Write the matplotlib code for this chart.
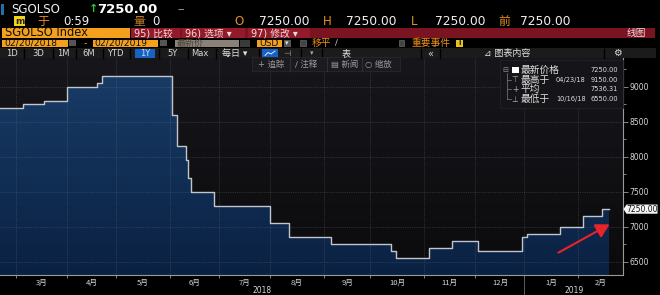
import numpy as np
import matplotlib
matplotlib.use('Agg')
import matplotlib.pyplot as plt
from matplotlib.patches import Rectangle, Polygon, FancyArrowPatch
from matplotlib.lines import Line2D
from matplotlib.colors import LinearSegmentedColormap
import matplotlib.transforms as mtransforms

plt.rcParams['font.family'] = ['DejaVu Sans', 'Noto Sans CJK SC']

# ---------------- data ----------------
ticker = 'SGOLSO'
last_price_text = '7250.00'
start_date = '2018-02-20'
end_date = '2019-02-20'
change_dates = ['2018-02-20', '2018-03-06', '2018-03-19', '2018-04-02', '2018-04-19',
                '2018-04-23', '2018-06-04', '2018-06-06', '2018-06-12', '2018-06-13',
                '2018-06-14', '2018-06-28', '2018-08-01', '2018-08-13', '2018-09-06',
                '2018-10-12', '2018-10-16', '2018-11-05', '2018-11-19', '2018-12-04',
                '2018-12-31', '2019-01-02', '2019-01-22', '2019-02-05', '2019-02-15',
                '2019-02-20']
change_values = [8700, 8750, 8800, 9000, 9050,
                 9150, 8600, 8150, 7950, 7700,
                 7500, 7300, 7050, 6850, 6750,
                 6650, 6550, 6700, 6800, 6650,
                 6850, 6900, 7000, 7150, 7250,
                 7250]
month_labels = ['3月', '4月', '5月', '6月', '7月', '8月', '9月', '10月', '11月', '12月', '1月', '2月']
year_labels = ['2018', '2019']
y_ticks = [6500, 7000, 7500, 8000, 8500, 9000]
y_minor = [6750, 7250, 7750, 8250, 8750, 9250]
legend_names = ['最新价格', '最高于', '平均', '最低于']
legend_dates = ['', '04/23/18', '', '10/16/18']
legend_values = ['7250.00', '9150.00', '7536.31', '6550.00']

# ---------------- figure ----------------
W, H = 660, 295
fig = plt.figure(figsize=(W / 100, H / 100), dpi=100, facecolor='black')

def R(x0, y0, x1, y1, fc, ec='none', lw=0.5, z=1):
    fig.add_artist(Rectangle((x0 / W, 1 - y1 / H), (x1 - x0) / W, (y1 - y0) / H,
                             transform=fig.transFigure, facecolor=fc, edgecolor=ec,
                             linewidth=lw, zorder=z))

def T(x, y, s, c='#e0e0e0', fs=7, ha='left', fw='normal', fam=None, z=8):
    kw = {}
    if fam is not None:
        kw['family'] = fam
    fig.text(x / W, 1 - y / H, s, color=c, fontsize=fs, ha=ha, va='center',
             fontweight=fw, zorder=z, **kw)

def L(xs, ys, c, lw=0.6, z=8):
    fig.add_artist(Line2D([v / W for v in xs], [1 - v / H for v in ys],
                          transform=fig.transFigure, color=c, lw=lw, zorder=z))

ORANGE = '#f4a01c'
ORANGE_T = '#ec8e1a'

# row 1
R(1, 4, 3.5, 14.5, '#1f6fa8')
T(11, 9.5, ticker, '#f0f0f0', 8.5)
T(89, 9.5, '↑', '#33c43a', 8, fw='bold')
T(97, 9.5, '7250.00', '#ffffff', 9.5, fw='bold')
T(178, 9.5, '--', '#b0b0b0', 7.5)

# row 2
R(14, 16.5, 25, 26, '#f2d21a')
T(19.5, 21.3, 'm', '#222222', 6.5, ha='center', fw='bold')
T(37, 21.3, '于', ORANGE_T, 8.5)
T(63, 21.3, '0:59', '#f0f0f0', 8.5)
T(133, 21.3, '量', '#b8782c', 8.5)
T(152, 21.3, '0', '#f0f0f0', 8.5)
for lab, lx, vx in [('O', 234, 259.5), ('H', 323, 346), ('L', 411, 434.6), ('前', 498, 520)]:
    T(lx, 21.3, lab, ORANGE_T, 8.5)
    T(vx, 21.3, '7250.00', '#f0f0f0', 8.8)

# row 3
R(2, 28, 130, 38, ORANGE)
T(5, 33, 'SGOLSO Index', '#101010', 8.3)
R(131, 28, 655, 38, '#7a1420')
for (a, b, s) in [(131, 180, '95) 比较'), (182, 245, '96) 选项 ▾'), (248, 310, '97) 修改 ▾')]:
    R(a, 28, b, 38, '#931a29')
    T(a + 3, 33, s, '#f3dede', 7)
T(636, 33, '线图', '#f3dede', 7, ha='center')

# row 4
R(2, 39.5, 68, 46.8, ORANGE)
T(4, 43.2, '02/20/2018', '#101010', 6.6)
R(69, 40, 76, 46.3, '#555555')
T(85, 43.2, '-', ORANGE_T, 7, ha='center')
R(92.7, 39.5, 158, 46.8, ORANGE)
T(94.5, 43.2, '02/20/2019', '#101010', 6.6)
R(160, 40, 167, 46.3, '#555555')
R(175, 39.5, 239, 46.8, '#8a8276')
T(177, 43.2, '最新价', '#4a4032', 6.5)
R(240, 39.5, 250, 46.8, '#3a3a3a')
R(257, 39.5, 282, 46.8, ORANGE)
T(259, 43.2, 'USD', '#101010', 6.6)
R(283.5, 39.5, 291, 46.8, '#555555')
T(287.2, 43.2, '▾', '#dddddd', 5, ha='center')
R(300, 40.5, 305.5, 46, '#444444', ec='#666666')
T(312, 43.2, '移平', ORANGE_T, 7)
T(335, 43.2, '∕', '#cccccc', 6)
R(399, 40.5, 404.5, 46, '#444444', ec='#666666')
T(411, 43.2, '重要事件', ORANGE_T, 7)
R(456, 40, 462.5, 46.5, '#e8c21a')
T(459.2, 43.2, 'i', '#222222', 5, ha='center', fw='bold')

# row 5
R(0, 48.5, 656, 58, '#1b1b1b')
for sx in [24, 52.5, 75.5, 102.5, 130, 158.5, 187.5, 215.5, 259, 300.5, 322, 421, 440, 604]:
    L([sx, sx], [48.5, 58], '#000000', lw=1.0, z=2)
R(135, 49, 155, 57.5, '#1663c7')
for cx, s in [(11.7, '1D'), (38.5, '3D'), (63, '1M'), (89, '6M'), (115, 'YTD'),
              (145, '1Y'), (172.7, '5Y'), (200, 'Max')]:
    T(cx, 53.3, s, '#d8d8d8', 6, ha='center')
T(222, 53.3, '每日 ▾', '#e0e0e0', 6.5)
R(262, 49.3, 277.6, 57.3, '#1663c7')
L([265, 268, 271, 275], [55.5, 52.5, 54, 51], '#ffffff', lw=0.6, z=9)
T(287, 53.3, '⊣', '#aaaaaa', 6, ha='center')
T(312, 53.3, '▾', '#aaaaaa', 5, ha='center')
T(346, 53.3, '表', '#e0e0e0', 6.5, ha='center')
T(430, 53.3, '«', '#cccccc', 7, ha='center')
T(484, 53.3, '⊿ 图表内容', '#e0e0e0', 6.5)
T(617, 53.3, '⚙', '#dddddd', 7, ha='center')

# ---------------- chart ----------------
ax = fig.add_axes([0, 20 / H, 623 / W, 217 / H])
ax.set_facecolor('#111114')
x = np.busday_count(start_date, np.array(change_dates, dtype='datetime64[D]'))
v = np.array(change_values, dtype=float)
XL, YL = (0.3, 267.2), (6310, 9407)

grad = np.linspace(0, 1, 256).reshape(-1, 1)
cm_bg = LinearSegmentedColormap.from_list('bg', ['#0b0b0e', '#17171b'])
ax.imshow(grad, extent=(0, 1, 0, 1), transform=ax.transAxes, origin='lower',
          aspect='auto', cmap=cm_bg, zorder=0)
poly = ax.fill_between(x, v, YL[0], step='post', facecolor='none', edgecolor='none', zorder=1)
cm_fill = LinearSegmentedColormap.from_list('fill', ['#0a2142', '#183b66'])
im = ax.imshow(grad, extent=(x[0], x[-1], YL[0], v.max()), origin='lower',
               aspect='auto', cmap=cm_fill, zorder=1)
im.set_clip_path(poly.get_paths()[0], transform=ax.transData)
ax.plot(x, v, drawstyle='steps-post', color='#c2c6cc', lw=1.0, zorder=4)

months = np.arange(np.datetime64('2018-03'), np.datetime64('2019-03'), np.timedelta64(1, 'M'))
mpos = np.busday_count(start_date, months.astype('datetime64[D]'))
edges = np.concatenate([mpos, [XL[1]]])
mids = (edges[:-1] + edges[1:]) / 2

for p in mpos:
    ax.axvline(p, color='#7a7a80', lw=0.5, ls=(0, (1, 1.6)), alpha=0.55, zorder=2)
for yv in y_ticks:
    ax.axhline(yv, color='#7a7a80', lw=0.5, ls=(0, (1, 1.6)), alpha=0.55, zorder=2)

ax.set_xlim(*XL)
ax.set_ylim(*YL)
for s in ['top', 'left']:
    ax.spines[s].set_visible(False)
for s in ['bottom', 'right']:
    ax.spines[s].set_color('#9a9a9a')
    ax.spines[s].set_linewidth(0.8)

ax.yaxis.tick_right()
ax.set_yticks(y_ticks)
ax.set_yticklabels([str(t) for t in y_ticks])
ax.set_yticks(y_minor, minor=True)
ax.tick_params(axis='y', which='major', length=3.5, width=0.6, color='#9a9a9a',
               labelcolor='#d8d8d8', labelsize=5.5, pad=1)
ax.tick_params(axis='y', which='minor', length=2, width=0.6, color='#9a9a9a')

ax.set_xticks(mpos)
ax.set_xticklabels([''] * len(mpos))
ax.set_xticks(mids, minor=True)
ax.set_xticklabels(month_labels, minor=True, family=['Noto Sans CJK SC'])
ax.tick_params(axis='x', which='major', length=2, width=0.6, color='#9a9a9a')
ax.tick_params(axis='x', which='minor', length=0, labelsize=5.5, labelcolor='#d8d8d8', pad=2.5)

blend = mtransforms.blended_transform_factory(ax.transData, ax.transAxes)
jan_pos = mpos[10]
ax.plot([jan_pos, jan_pos], [0, -0.095], transform=blend, clip_on=False,
        color='#6a6a6a', lw=0.6)
ax.text((XL[0] + jan_pos) / 2, -0.072, year_labels[0], transform=blend, ha='center',
        va='center', fontsize=5.5, color='#d8d8d8')
ax.text((jan_pos + XL[1]) / 2, -0.072, year_labels[1], transform=blend, ha='center',
        va='center', fontsize=5.5, color='#d8d8d8')

# last price tag
ty = 275 - (v[-1] - YL[0]) / (YL[1] - YL[0]) * 217
fig.add_artist(Polygon([(623.5 / W, 1 - ty / H), (626.5 / W, 1 - (ty - 4.6) / H),
                        (657.5 / W, 1 - (ty - 4.6) / H), (657.5 / W, 1 - (ty + 4.6) / H),
                        (626.5 / W, 1 - (ty + 4.6) / H)], closed=True,
                       transform=fig.transFigure, facecolor='#f4f4f4', edgecolor='none', zorder=7))
T(642, ty + 0.2, last_price_text, '#111111', 5.5, ha='center')

# overlay toolbar
R(252, 57.5, 400, 71, '#1b1b1f', ec='#2c2c30', z=6)
for sx in [290, 327, 362]:
    L([sx, sx], [58, 70.5], '#2e2e33', lw=0.8, z=7)
T(258, 64.3, '+ 追踪', '#9c9c9c', 6)
T(295, 64.3, '∕ 注释', '#9c9c9c', 6)
T(331, 64.3, '▤ 新闻', '#9c9c9c', 6)
T(365, 64.3, '○ 缩放', '#9c9c9c', 6)

# legend box
R(500, 60, 623, 108, '#151519', ec='#26262a', z=6)
rows_y = [70, 79.7, 89.3, 99]
L([507, 507], [73, 99], '#808080', lw=0.5)
for ry in rows_y[1:]:
    L([507, 511], [ry, ry], '#808080', lw=0.5)
T(505, 70, '⊟', '#909090', 5, ha='center')
R(512, 66.5, 518.5, 73.2, '#ffffff', z=8)
T(515, rows_y[1], '⊤', '#b0b0b0', 5.5, ha='center')
T(515, rows_y[2], '+', '#b0b0b0', 5.5, ha='center')
T(515, rows_y[3], '⊥', '#b0b0b0', 5.5, ha='center')
for ry, nm, dt, val in zip(rows_y, legend_names, legend_dates, legend_values):
    T(520.5, ry, nm, '#dedede', 7)
    if dt:
        T(556, ry, dt, '#dedede', 4.8)
    T(618, ry, val, '#dedede', 4.8, ha='right')

# red arrow annotation
fig.add_artist(FancyArrowPatch((556 / W, 1 - 254 / H), (612 / W, 1 - 223 / H),
                               transform=fig.transFigure,
                               arrowstyle='-|>,head_length=0.8,head_width=0.45',
                               mutation_scale=10, color='#e8242a', lw=1.5, zorder=9))

fig.savefig('out.png', dpi=100, facecolor='black')
